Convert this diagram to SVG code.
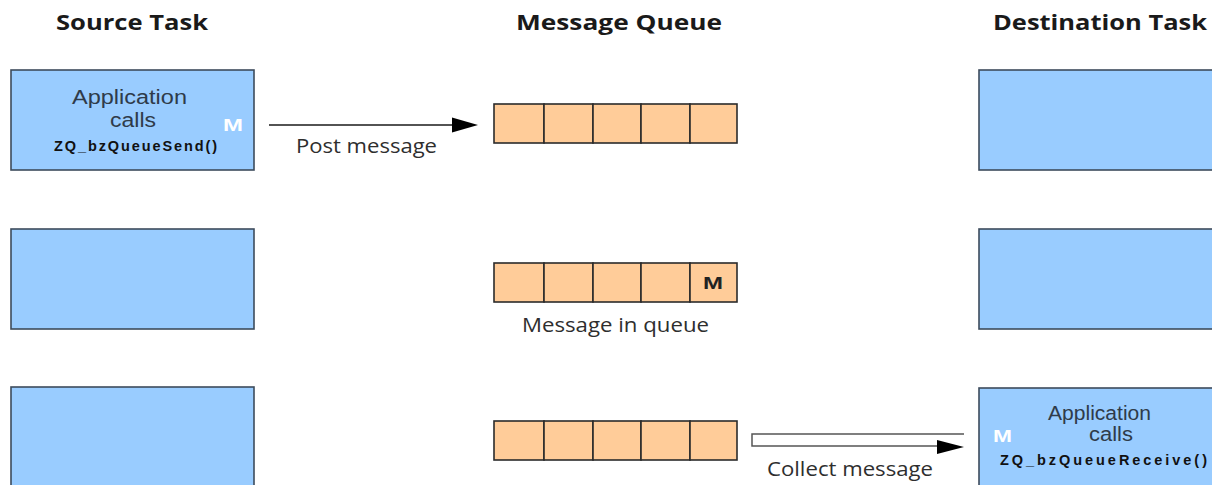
<svg xmlns="http://www.w3.org/2000/svg" width="1212" height="485" viewBox="0 0 1212 485">
  <style>
    .task { fill: #99ccff; stroke: #3d4b5c; stroke-width: 1.6; }
    .cell { fill: #ffcc99; stroke: #2b2b2b; stroke-width: 1.6; }
    .title { font-family: "Open Sans", "Liberation Sans", sans-serif; font-weight: 700; font-size: 22px; fill: #1a1a1a; }
    .label { font-family: "Open Sans", "Liberation Sans", sans-serif; font-size: 19.5px; fill: #2e2e2e; }
    .app { font-family: "Liberation Sans", Arial, sans-serif; font-size: 19.5px; fill: #2f3b4a; text-anchor: middle; }
    .api { font-family: "Liberation Sans", Arial, sans-serif; font-weight: 700; font-size: 14.5px; fill: #111111; text-anchor: middle; }
    .msg { font-family: "Liberation Sans", Arial, sans-serif; font-weight: 700; font-size: 17px; text-anchor: middle; }
    .wire { fill: none; stroke: #1a1a1a; stroke-width: 1.4; }
    .hollow { fill: #ffffff; stroke: #555555; stroke-width: 1.5; }
  </style>

  <rect width="1212" height="485" fill="#ffffff"/>

  <!-- column headings -->
  <g id="headings">
    <text class="title" x="56" y="30" textLength="152" lengthAdjust="spacingAndGlyphs">Source Task</text>
    <text class="title" x="516" y="30" textLength="206" lengthAdjust="spacingAndGlyphs">Message Queue</text>
    <text class="title" x="993" y="30" textLength="214" lengthAdjust="spacingAndGlyphs">Destination Task</text>
  </g>

  <!-- source task, three stages -->
  <g id="source-send">
    <rect class="task" x="11" y="70" width="243" height="100"/>
    <text class="app" x="129.5" y="104" textLength="115" lengthAdjust="spacingAndGlyphs">Application</text>
    <text class="app" x="133" y="127" textLength="46" lengthAdjust="spacingAndGlyphs">calls</text>
    <text class="api" x="135.5" y="151" textLength="163">ZQ_bzQueueSend()</text>
    <text class="msg" x="233" y="131" fill="#ffffff" textLength="20" lengthAdjust="spacingAndGlyphs">M</text>
  </g>
  <g id="source-idle">
    <rect class="task" x="11" y="229" width="243" height="100"/>
  </g>
  <g id="source-idle-2">
    <rect class="task" x="11" y="387" width="243" height="120"/>
  </g>

  <!-- message queue, three stages -->
  <g id="queue-empty">
    <rect class="cell" x="494" y="104" width="50" height="39"/>
    <rect class="cell" x="544" y="104" width="49" height="39"/>
    <rect class="cell" x="593" y="104" width="48" height="39"/>
    <rect class="cell" x="641" y="104" width="49" height="39"/>
    <rect class="cell" x="690" y="104" width="47" height="39"/>
  </g>
  <g id="queue-holding">
    <rect class="cell" x="494" y="263" width="50" height="39"/>
    <rect class="cell" x="544" y="263" width="49" height="39"/>
    <rect class="cell" x="593" y="263" width="48" height="39"/>
    <rect class="cell" x="641" y="263" width="49" height="39"/>
    <rect class="cell" x="690" y="263" width="47" height="39"/>
    <text class="msg" x="713" y="289" fill="#222222" textLength="20" lengthAdjust="spacingAndGlyphs">M</text>
    <text class="label" x="522" y="332" textLength="187" lengthAdjust="spacingAndGlyphs">Message in queue</text>
  </g>
  <g id="queue-drained">
    <rect class="cell" x="494" y="421" width="50" height="39"/>
    <rect class="cell" x="544" y="421" width="49" height="39"/>
    <rect class="cell" x="593" y="421" width="48" height="39"/>
    <rect class="cell" x="641" y="421" width="49" height="39"/>
    <rect class="cell" x="690" y="421" width="47" height="39"/>
  </g>

  <!-- destination task, three stages -->
  <g id="dest-idle">
    <rect class="task" x="979" y="70" width="260" height="100"/>
  </g>
  <g id="dest-idle-2">
    <rect class="task" x="979" y="229" width="260" height="100"/>
  </g>
  <g id="dest-receive">
    <rect class="task" x="979" y="388" width="260" height="120"/>
    <text class="app" x="1099.5" y="420" textLength="103" lengthAdjust="spacingAndGlyphs">Application</text>
    <text class="app" x="1111" y="441" textLength="44" lengthAdjust="spacingAndGlyphs">calls</text>
    <text class="api" x="1103.5" y="465" textLength="207">ZQ_bzQueueReceive()</text>
    <text class="msg" x="1002.5" y="442" fill="#ffffff" textLength="19" lengthAdjust="spacingAndGlyphs">M</text>
  </g>

  <!-- connectors -->
  <g id="connectors">
    <g id="post">
      <line class="wire" x1="269" y1="125" x2="453" y2="125"/>
      <polygon points="452,117.5 478,125 452,132.5" fill="#000000"/>
      <text class="label" x="296" y="153" textLength="141" lengthAdjust="spacingAndGlyphs">Post message</text>
    </g>
    <g id="collect">
      <path class="hollow" d="M964,434 H752 V446 H938"/>
      <polygon points="937,440 964,447 937,454" fill="#000000"/>
      <text class="label" x="767" y="476" textLength="166" lengthAdjust="spacingAndGlyphs">Collect message</text>
    </g>
  </g>
</svg>
